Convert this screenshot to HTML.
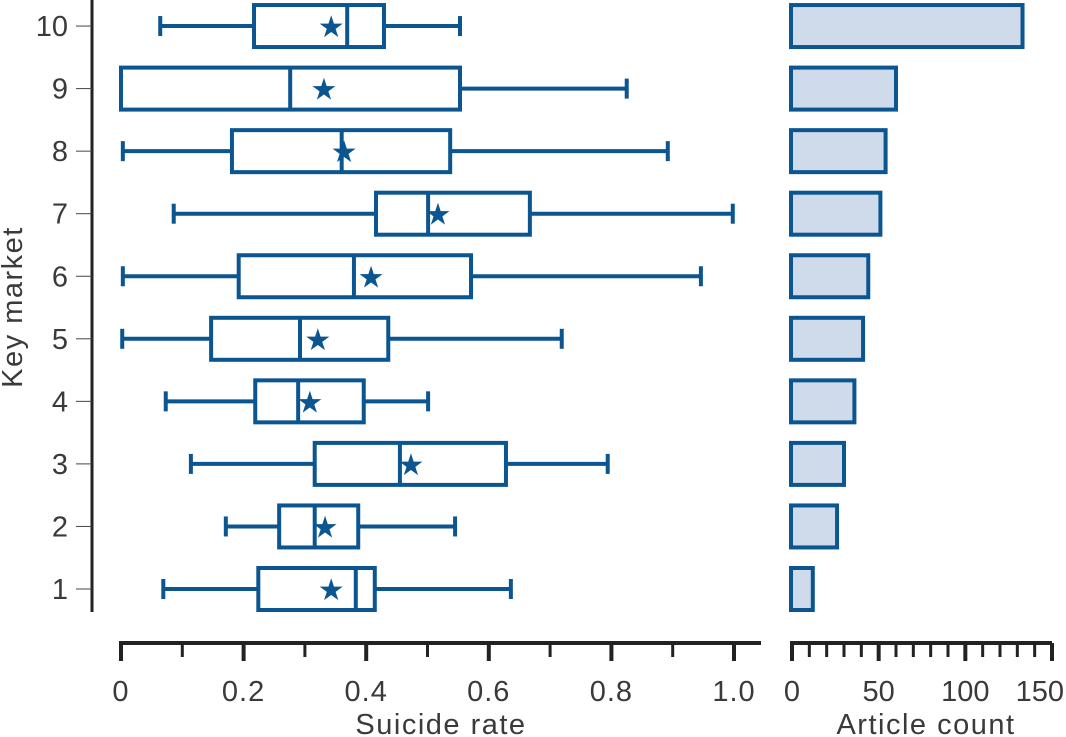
<!DOCTYPE html>
<html><head><meta charset="utf-8"><style>
html,body{margin:0;padding:0;background:#fff;width:1066px;height:737px;overflow:hidden}
svg{display:block;font-family:"Liberation Sans",sans-serif}
</style></head><body>
<svg id="c" width="1066" height="737"></svg>
<script>
const markets=[1,2,3,4,5,6,7,8,9,10];
const whiskerLow=[0.069,0.171,0.114,0.073,0.002,0.003,0.086,0.003,0.0,0.064];
const q1=[0.224,0.258,0.316,0.219,0.147,0.192,0.416,0.181,0.0,0.217];
const median=[0.383,0.316,0.455,0.289,0.292,0.380,0.501,0.360,0.276,0.369];
const q3=[0.414,0.387,0.628,0.396,0.436,0.571,0.667,0.537,0.553,0.429];
const whiskerHigh=[0.636,0.545,0.794,0.501,0.719,0.946,0.998,0.892,0.825,0.553];
const meanRate=[0.343,0.333,0.473,0.308,0.321,0.408,0.517,0.364,0.331,0.343];
const articleCount=[12,26,30,36,41,44,51,54,60,133];
const rateTicks=[0,0.2,0.4,0.6,0.8,1.0];
const rateTickLabels=["0","0.2","0.4","0.6","0.8","1.0"];
const countTicks=[0,50,100,150];

const NS="http://www.w3.org/2000/svg";
const svg=document.getElementById('c');
const blue="#0b5591";
const txt="#3a3a3a";
function el(t,a,p){const e=document.createElementNS(NS,t);for(const k in a)e.setAttribute(k,a[k]);(p||svg).appendChild(e);return e;}
const xr=v=>121+v*613;
const xc=v=>792+v*(260/150);
const y=m=>589-(m-1)*62.55;

// y axis
const ya=el('line',{x1:92,y1:0,x2:92,y2:612,stroke:'#222','stroke-width':3});

markets.forEach(m=>{
  const t=el('line',{x1:76,y1:y(m),x2:92,y2:y(m),stroke:'#444','stroke-width':1});
  
  const l=el('text',{x:68,y:y(m)+10,'text-anchor':'end','font-size':29,fill:txt});l.textContent=m;
  
});
const yt=el('text',{x:0,y:0,transform:'translate(22,307) rotate(-90)','text-anchor':'middle','font-size':29,'letter-spacing':1.5,fill:txt});
yt.textContent='Key market';

// boxes
markets.forEach((m,i)=>{
  const g=el('g',{});
  
  const cy=y(m),h=21;
  el('line',{x1:xr(whiskerLow[i]),y1:cy,x2:xr(q1[i]),y2:cy,stroke:blue,'stroke-width':4},g);
  el('line',{x1:xr(q3[i]),y1:cy,x2:xr(whiskerHigh[i]),y2:cy,stroke:blue,'stroke-width':4},g);
  el('line',{x1:xr(whiskerLow[i]),y1:cy-10,x2:xr(whiskerLow[i]),y2:cy+10,stroke:blue,'stroke-width':4},g);
  el('line',{x1:xr(whiskerHigh[i]),y1:cy-10,x2:xr(whiskerHigh[i]),y2:cy+10,stroke:blue,'stroke-width':4},g);
  el('rect',{x:xr(q1[i]),y:cy-h,width:xr(q3[i])-xr(q1[i]),height:2*h,fill:'#fff',stroke:blue,'stroke-width':4},g);
  el('line',{x1:xr(median[i]),y1:cy-h,x2:xr(median[i]),y2:cy+h,stroke:blue,'stroke-width':4},g);
  const s=el('text',{x:xr(meanRate[i]),y:cy+11,'text-anchor':'middle','font-size':30,fill:blue,'font-family':'DejaVu Sans'},g);
  s.textContent='★';
});

// x axis rate
const xa=el('line',{x1:119,y1:643,x2:761,y2:643,stroke:'#222','stroke-width':4});

for(let k=0;k<=10;k++){const v=k/10;const major=k%2===0;
  const t=el('line',{x1:xr(v),y1:643,x2:xr(v),y2:major?661:657,stroke:'#222','stroke-width':major?4:3});
  }
rateTicks.forEach((v,i)=>{const l=el('text',{x:xr(v),y:701,'text-anchor':'middle','font-size':29,'letter-spacing':1,fill:txt});l.textContent=rateTickLabels[i];
  });
const xt=el('text',{x:441,y:734,'text-anchor':'middle','font-size':29,'letter-spacing':1.5,fill:txt});xt.textContent='Suicide rate';


// bars
markets.forEach((m,i)=>{
  const b=el('rect',{x:xc(0)-1,y:y(m)-21,width:xc(articleCount[i])-xc(0)+1,height:42,fill:'#cfdaea',stroke:blue,'stroke-width':4});
  
});
const ca=el('line',{x1:790,y1:643,x2:1052,y2:643,stroke:'#222','stroke-width':4});

for(let k=0;k<=15;k++){const v=k*10;const major=k%5===0;
  const t=el('line',{x1:xc(v),y1:643,x2:xc(v),y2:major?661:657,stroke:'#222','stroke-width':major?4:3});
  }
countTicks.forEach((v,i)=>{const last=i===countTicks.length-1;
  const l=el('text',{x:last?1064:xc(v),y:701,'text-anchor':last?'end':'middle','font-size':29,fill:txt});l.textContent=v;
  });
const ct=el('text',{x:926,y:734,'text-anchor':'middle','font-size':29,'letter-spacing':1.5,fill:txt});ct.textContent='Article count';

</script>
</body></html>
